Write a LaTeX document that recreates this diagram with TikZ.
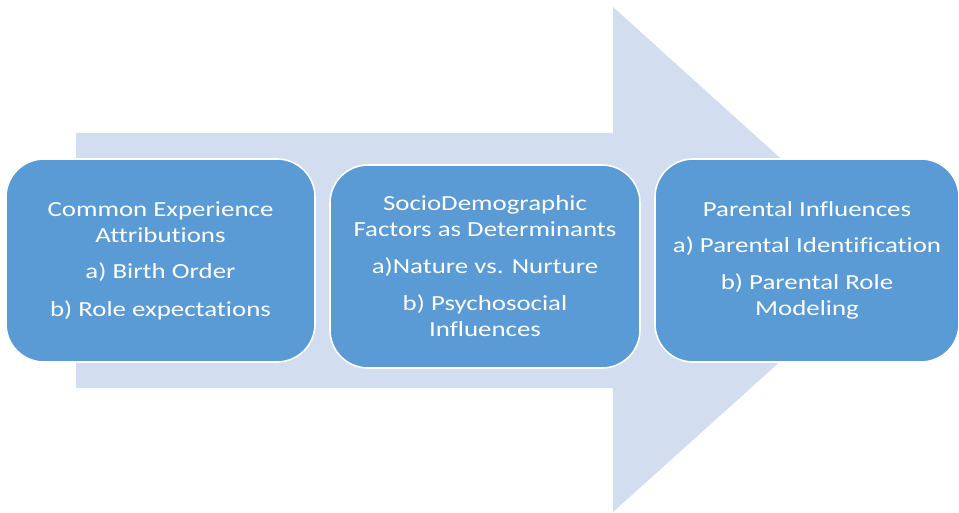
\documentclass[tikz,border=0pt]{standalone}
\usepackage{fontspec}
\setmainfont{Carlito}[FakeStretch=1.25, Ligatures=NoCommon]
\definecolor{arrowbg}{HTML}{D2DEEF}
\definecolor{boxblue}{HTML}{5B9BD5}
\tikzset{
  stagebox/.style={draw=white, line width=1.6pt, fill=boxblue, rounded corners=38pt,
    text=white, align=center, inner sep=0pt,
    font=\fontsize{21.5}{26}\selectfont, minimum height=203pt},
}
\begin{document}
\begin{tikzpicture}[x=1pt,y=1pt]
\useasboundingbox (0,0) rectangle (959,512);
% background arrow
\fill[arrowbg] (76,379) -- (613,379) -- (613,505) -- (893,252) -- (613,0) -- (613,124) -- (76,124) -- cycle;
% stages
\node[stagebox, minimum width=309pt] (s1) at (160.5,251.5)
  {Common Experience\\Attributions\\[10pt]a) Birth Order\\[12pt]b) Role expectations};
\node[stagebox, minimum width=310pt] (s2) at (485,245.5)
  {SocioDemographic\\Factors as Determinants\\[11pt]a)Nature vs. Nurture\\[11pt]b) Psychosocial\\Influences};
\node[stagebox, minimum width=304pt] (s3) at (807,251.5)
  {Parental Influences\\[10pt]a) Parental Identification\\[11pt]b) Parental Role\\Modeling};
\end{tikzpicture}
\end{document}
